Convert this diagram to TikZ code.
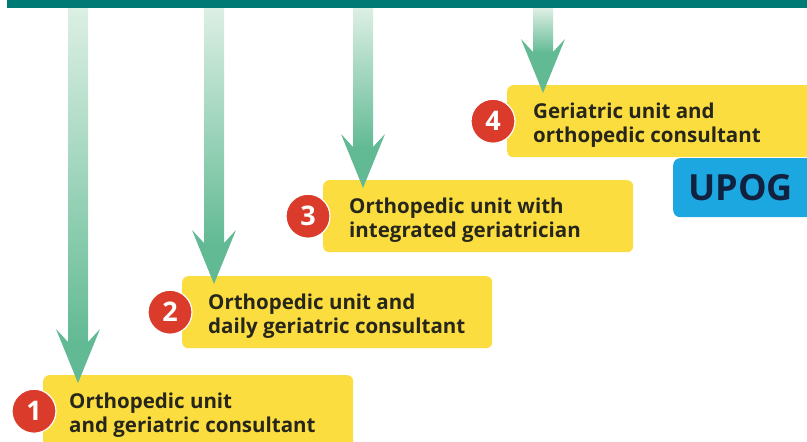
\documentclass[tikz,border=0pt]{standalone}
\usepackage{fontspec}
\setmainfont{Open Sans}
\usepackage{tikz}
\usetikzlibrary{calc}
\usepackage{xcolor}

\definecolor{barteal}{HTML}{007A74}
\definecolor{stageyellow}{HTML}{FCDD3F}
\definecolor{stepred}{HTML}{DB3B2B}
\definecolor{upogblue}{HTML}{1CA7E0}
\definecolor{upognavy}{HTML}{10223F}
\definecolor{arrowlight}{HTML}{DCEFE4}
\definecolor{arrowdark}{HTML}{62BA94}
\definecolor{stagetext}{HTML}{26261C}

\begin{document}
\begin{tikzpicture}[x=1pt, y=-1pt,
    stagebox/.style={fill=stageyellow, rounded corners=6pt, anchor=north west,
      minimum width=310pt, minimum height=72pt, inner sep=0pt},
    stagetext/.style={anchor=west, align=left, inner sep=0pt, text=stagetext,
      font=\fontsize{20.5}{24}\selectfont\bfseries},
    stepdot/.style={circle, fill=stepred, draw=white, line width=1.2pt,
      minimum size=44pt, inner sep=0pt, text=white,
      font=\fontsize{27}{27}\selectfont\bfseries}]
    \useasboundingbox (0,0) rectangle (807,442);
    \clip (0,0) rectangle (807,442);

    % Top bar
    \node (bar) [fill=barteal, anchor=north west, minimum width=800pt,
      minimum height=8pt, inner sep=0pt] at (7,0) {};

    % Stages: number/left/top/dot offset/text
    \foreach \n/\x/\y/\dd/\txt in {
      1/43/375/-9/{Orthopedic unit\\and geriatric consultant},
      2/182/276/-12/{Orthopedic unit and\\daily geriatric consultant},
      3/323/180/-15/{Orthopedic unit with\\integrated geriatrician},
      4/507/85/-14/{Geriatric unit and\\orthopedic consultant}}
    {
      \node (box\n) [stagebox] at (\x,\y) {};
      \node (label\n) [stagetext] at ($(box\n.west)+(26,4)$) {\txt};
      \node (dot\n) [stepdot] at ($(box\n.west)+(\dd,0)$) {\n};
    }

    % Arrows from the bar down to each stage
    \foreach \n/\dx in {1/35, 2/32, 3/40, 4/36} {
      \coordinate (tip\n) at ($(box\n.north west)+(\dx,8)$);
      \coordinate (top\n) at (tip\n |- bar.south);
      \shade[top color=arrowlight, bottom color=arrowdark]
        ($(top\n)+(-10,0)$) rectangle ($(tip\n)+(10,-40)$);
      \fill[arrowdark] ($(tip\n)+(-10,-41)$) -- ($(tip\n)+(-22,-54)$) -- (tip\n)
        -- ($(tip\n)+(22,-54)$) -- ($(tip\n)+(10,-41)$) -- cycle;
    }

    \node (upog) [fill=upogblue, rounded corners=7pt, anchor=north west,
      minimum width=145pt, minimum height=59pt, inner sep=0pt, text=upognavy,
      font=\fontsize{36}{36}\selectfont\bfseries] at (673,158) {\hspace*{-10pt}UPOG};
\end{tikzpicture}
\end{document}
